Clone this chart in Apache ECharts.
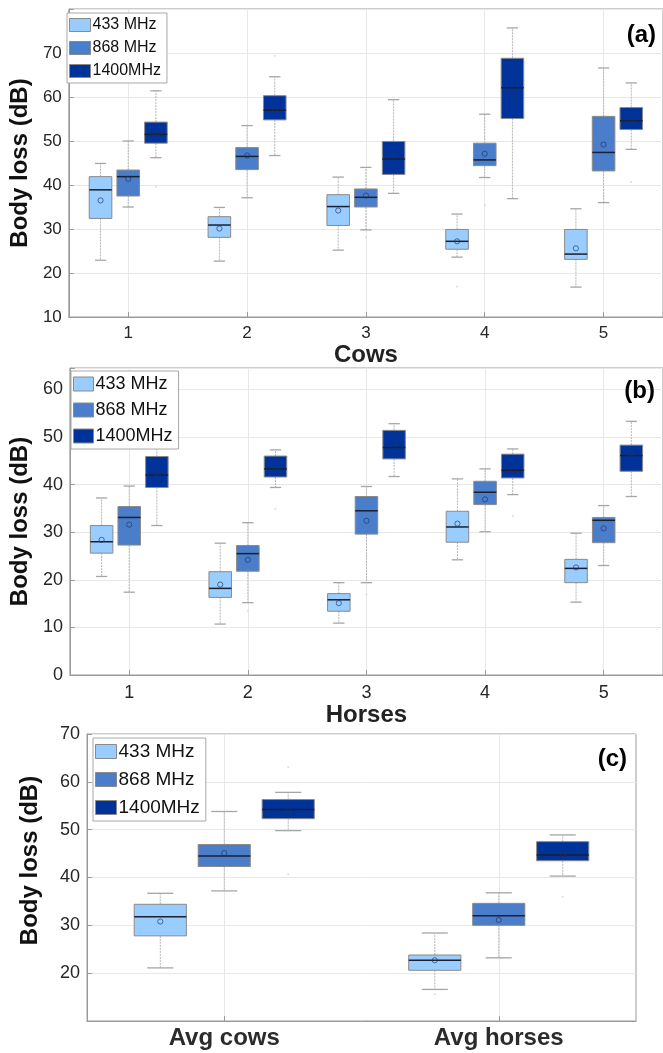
<!DOCTYPE html>
<html>
<head>
<meta charset="utf-8">
<script src="https://cdn.jsdelivr.net/npm/echarts@6/dist/echarts.min.js"></script>
<style>
  html, body { margin: 0; padding: 0; background: #fff; }
  #chart { width: 663px; height: 1053px; }
</style>
</head>
<body>
<div id="chart"></div>
<script>
// box stats per group: [min, q1, median, q3, max]
const cowCats = ['1', '2', '3', '4', '5'];
const cow433 = [[22.9, 32.4, 38.9, 41.9, 44.9], [22.7, 28.1, 30.9, 32.8, 34.9], [25.2, 30.8, 35.1, 37.8, 41.8], [23.6, 25.4, 27.2, 29.9, 33.4], [16.8, 23.1, 24.3, 29.9, 34.6]];
const cow868 = [[35.0, 37.5, 41.9, 43.4, 50.0], [37.1, 43.5, 46.5, 48.5, 53.5], [29.8, 35.0, 37.2, 39.1, 44.0], [41.7, 44.4, 45.7, 49.5, 56.1], [36.0, 43.2, 47.4, 55.6, 66.6]];
const cow1400 = [[46.2, 49.5, 51.5, 54.3, 61.4], [46.7, 54.8, 57.0, 60.3, 64.6], [38.1, 42.4, 45.9, 49.9, 59.4], [36.9, 55.1, 62.1, 68.8, 75.7], [48.1, 52.6, 54.6, 57.6, 63.2]];
const cowMean433 = [36.5, 30.1, 34.2, 27.2, 25.6];
const cowMean868 = [41.4, 46.7, 37.6, 47.1, 49.2];
const cowMean1400 = [51.7, 57.2, 46.7, 60.3, 54.8];
const cowOut433 = [[4, 16.9]];
const cowOut868 = [[3, 28.1], [4, 35.4]];
const cowOut1400 = [[1, 39.6], [1, 63.7], [2, 69.4], [5, 40.7]];

const horseCats = ['1', '2', '3', '4', '5'];
const horse433 = [[20.7, 25.6, 28.0, 31.4, 37.2], [10.7, 16.3, 18.2, 21.7, 27.7], [10.9, 13.4, 15.8, 17.1, 19.4], [24.2, 27.9, 31.1, 34.4, 41.2], [15.3, 19.4, 22.4, 24.3, 29.8]];
const horse868 = [[17.4, 27.3, 33.1, 35.4, 39.7], [15.2, 21.8, 25.5, 27.2, 32.0], [19.4, 29.6, 34.5, 37.5, 39.6], [30.1, 35.8, 38.4, 40.7, 43.3], [23.0, 27.8, 32.5, 33.1, 35.6]];
const horse1400 = [[31.4, 39.4, 42.0, 45.9, 51.0], [39.4, 41.6, 43.3, 46.0, 47.3], [41.7, 45.4, 47.8, 51.4, 52.8], [37.9, 41.4, 43.0, 46.4, 47.5], [37.5, 42.8, 46.1, 48.3, 53.3]];
const horseMean433 = [28.4, 19.0, 15.1, 31.8, 22.6];
const horseMean868 = [31.6, 24.2, 32.4, 36.9, 30.8];
const horseMean1400 = [42.4, 43.2, 48.0, 43.1, 46.6];
const horseOut433 = [];
const horseOut868 = [[2, 13.5], [3, 16.9]];
const horseOut1400 = [[2, 34.9], [4, 33.4]];

const avgCats = ['Avg cows', 'Avg horses'];
const avg433 = [[21.1, 27.8, 31.8, 34.4, 36.7], [16.6, 20.6, 22.7, 23.8, 28.4]];
const avg868 = [[37.2, 42.3, 44.5, 46.9, 53.8], [23.2, 30.0, 32.0, 34.6, 36.8]];
const avg1400 = [[49.8, 52.3, 54.2, 56.3, 57.8], [40.3, 43.5, 44.7, 47.5, 48.9]];
const avgMean433 = [30.8, 22.7];
const avgMean868 = [45.1, 31.1];
const avgMean1400 = [54.1, 44.7];
const avgOut433 = [[2, 15.6]];
const avgOut868 = [];
const avgOut1400 = [[1, 63.1], [1, 40.7], [2, 36.0]];

const freqNames = ['433 MHz', '868 MHz', '1400MHz'];
const freqColors = ['#99ccff', '#4a7ecb', '#003399'];
const offsets = [-0.233, 0, 0.233];
const FONT = 'Liberation Sans, Arial, sans-serif';

function renderBox(off) {
  return function (params, api) {
    const x = api.value(0) + off;
    const band = api.size([1, 0])[0];
    const w = band * 0.19;
    const cap = w / 2;
    const pMin = api.coord([x, api.value(1)]);
    const pQ1 = api.coord([x, api.value(2)]);
    const pMed = api.coord([x, api.value(3)]);
    const pQ3 = api.coord([x, api.value(4)]);
    const pMax = api.coord([x, api.value(5)]);
    const pMean = api.coord([x, api.value(6)]);
    const cx = pMed[0];
    const color = api.visual('color');
    return {
      type: 'group',
      children: [
        { type: 'line', shape: { x1: cx, y1: pQ3[1], x2: cx, y2: pMax[1] }, style: { stroke: '#b5b5b5', lineWidth: 1, lineDash: [2, 1] } },
        { type: 'line', shape: { x1: cx, y1: pQ1[1], x2: cx, y2: pMin[1] }, style: { stroke: '#b5b5b5', lineWidth: 1, lineDash: [2, 1] } },
        { type: 'line', shape: { x1: cx - cap / 2, y1: pMax[1], x2: cx + cap / 2, y2: pMax[1] }, style: { stroke: '#a6a6a6', lineWidth: 1.3 } },
        { type: 'line', shape: { x1: cx - cap / 2, y1: pMin[1], x2: cx + cap / 2, y2: pMin[1] }, style: { stroke: '#a6a6a6', lineWidth: 1.3 } },
        { type: 'rect', shape: { x: cx - w / 2, y: pQ3[1], width: w, height: pQ1[1] - pQ3[1] }, style: { fill: color, stroke: '#8a8a8a', lineWidth: 1 } },
        { type: 'line', shape: { x1: cx - w / 2, y1: pMed[1], x2: cx + w / 2, y2: pMed[1] }, style: { stroke: '#1b1f2e', lineWidth: 1.5 } },
        { type: 'circle', shape: { cx: cx, cy: pMean[1], r: 2.6 }, style: { fill: 'none', stroke: 'rgba(30,50,95,0.65)', lineWidth: 1 } }
      ]
    };
  };
}

function boxData(stats, means) {
  return stats.map(function (s, i) { return [i + 1].concat(s).concat([means[i]]); });
}

function outData(list, off) {
  return list.map(function (p) { return [p[0] + off, p[1]]; });
}

function panelSeries(idx, statsList, meanList, outList) {
  const out = [];
  for (let k = 0; k < 3; k++) {
    out.push({
      name: freqNames[k],
      type: 'custom',
      xAxisIndex: idx,
      yAxisIndex: idx,
      itemStyle: { color: freqColors[k] },
      renderItem: renderBox(offsets[k]),
      encode: { x: 0, y: [1, 2, 3, 4, 5, 6] },
      data: boxData(statsList[k], meanList[k]),
      silent: true,
      z: 3
    });
    out.push({
      type: 'scatter',
      xAxisIndex: idx,
      yAxisIndex: idx,
      symbolSize: 2,
      itemStyle: { color: '#d4d4d4' },
      data: outData(outList[k], offsets[k]),
      silent: true,
      z: 2
    });
  }
  return out;
}

function xAxis(idx, cats, fontSize, bold, margin, name, nameGap) {
  const ticks = cats.map(function (c, i) { return i + 1; });
  return {
    type: 'value',
    gridIndex: idx,
    min: 0.5,
    max: cats.length + 0.5,
    name: name,
    nameLocation: 'middle',
    nameGap: nameGap,
    nameTextStyle: { fontFamily: FONT, fontWeight: 'bold', fontSize: 24, color: '#222' },
    axisLine: { show: true, lineStyle: { color: '#9a9a9a' } },
    axisTick: { show: true, inside: true, length: 5, customValues: ticks, lineStyle: { color: '#9a9a9a' } },
    axisLabel: {
      customValues: ticks,
      margin: margin,
      fontFamily: FONT,
      fontSize: fontSize,
      fontWeight: bold ? 'bold' : 'normal',
      color: bold ? '#2b2b2b' : '#262626',
      formatter: function (v) { return cats[Math.round(v) - 1]; }
    },
    splitLine: { show: true, lineStyle: { color: '#e8e8e8' } }
  };
}

function yAxis(idx, min, max, fontSize, nameGap, shift) {
  return {
    type: 'value',
    gridIndex: idx,
    min: min,
    max: max,
    interval: 10,
    name: 'Body loss (dB)',
    nameLocation: 'middle',
    nameGap: nameGap,
    nameTextStyle: { fontFamily: FONT, fontWeight: 'bold', fontSize: 24, color: '#111', padding: [0, 0, 0, shift] },
    axisLine: { show: true, lineStyle: { color: '#9a9a9a' } },
    axisTick: { show: true, inside: true, length: 5, lineStyle: { color: '#9a9a9a' } },
    axisLabel: {
      margin: 7,
      fontFamily: FONT,
      fontSize: fontSize,
      color: '#262626',
      formatter: function (v) {
        if (v % 10 !== 0 || (idx === 0 && v === 80) || (idx === 2 && v === 10)) return '';
        return v;
      }
    },
    splitLine: { show: true, lineStyle: { color: '#e8e8e8' } }
  };
}

function legend(left, top, fontSize, gap, iw, ih) {
  return {
    data: freqNames,
    orient: 'vertical',
    left: left,
    top: top,
    itemWidth: iw,
    itemHeight: ih,
    itemGap: gap,
    padding: [4, 6, 4, 2],
    backgroundColor: '#fff',
    borderColor: '#a8a8a8',
    borderWidth: 1,
    borderRadius: 0,
    icon: 'rect',
    selectedMode: false,
    z: 10,
    itemStyle: { borderColor: '#8a8a8a', borderWidth: 1 },
    textStyle: { fontFamily: FONT, fontSize: fontSize, color: '#111', padding: [0, 0, 0, -3] }
  };
}

const chart = echarts.init(document.getElementById('chart'), null, { renderer: 'canvas' });

const option = {
  animation: false,
  backgroundColor: '#fff',
  title: [
    { text: '(a)', right: 2, top: 18, textStyle: { fontFamily: FONT, fontWeight: 'bold', fontSize: 24, color: '#000' } },
    { text: '(b)', right: 3, top: 374, textStyle: { fontFamily: FONT, fontWeight: 'bold', fontSize: 24, color: '#000' } },
    { text: '(c)', right: 31, top: 742, textStyle: { fontFamily: FONT, fontWeight: 'bold', fontSize: 24, color: '#000' } }
  ],
  legend: [
    legend(67, 13, 16, 7, 21, 13),
    legend(71, 371, 18, 8, 20, 14),
    legend(93, 738, 19, 9, 21, 14)
  ],
  grid: [
    { left: 61, top: 9, right: -3, height: 308, show: true, borderColor: '#9a9a9a', backgroundColor: '#fff' },
    { left: 66, top: 368, right: -3, height: 307, show: true, borderColor: '#9a9a9a', backgroundColor: '#fff' },
    { left: 87, top: 734, width: 549, height: 287, show: true, borderColor: '#9a9a9a', backgroundColor: '#fff' }
  ],
  xAxis: [
    xAxis(0, cowCats, 17, false, 8, 'Cows', 24),
    xAxis(1, horseCats, 18, false, 9, 'Horses', 26),
    xAxis(2, avgCats, 24, true, 5, '', 0)
  ],
  yAxis: [
    yAxis(0, 10, 80, 17, 28, 0),
    yAxis(1, 0, 64.5, 18, 34, 0),
    yAxis(2, 10, 70, 18, 45, 34)
  ],
  series: [].concat(
    panelSeries(0, [cow433, cow868, cow1400], [cowMean433, cowMean868, cowMean1400], [cowOut433, cowOut868, cowOut1400]),
    panelSeries(1, [horse433, horse868, horse1400], [horseMean433, horseMean868, horseMean1400], [horseOut433, horseOut868, horseOut1400]),
    panelSeries(2, [avg433, avg868, avg1400], [avgMean433, avgMean868, avgMean1400], [avgOut433, avgOut868, avgOut1400])
  )
};

chart.setOption(option);
</script>
</body>
</html>
